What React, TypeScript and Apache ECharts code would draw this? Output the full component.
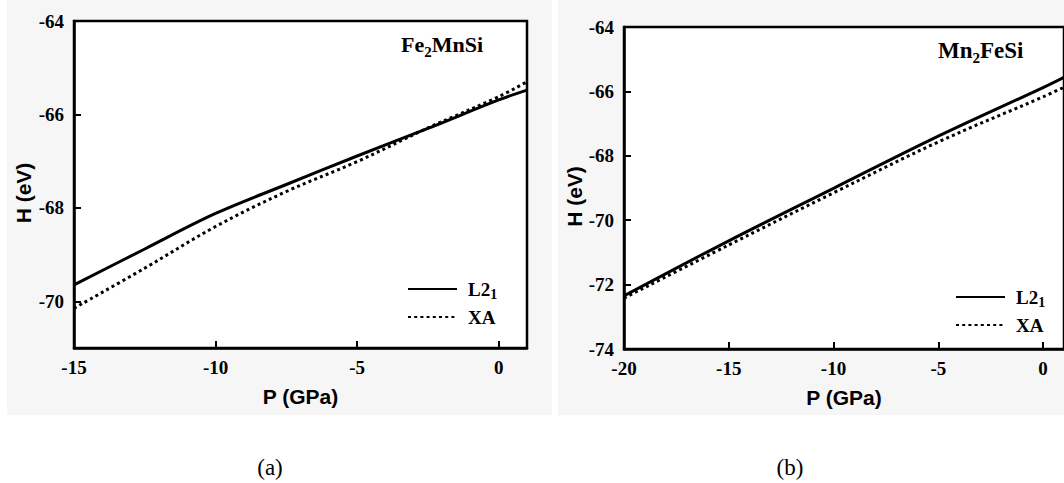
import React, { useEffect, useRef } from "react";
import * as echarts from "echarts";

// Panel (a): Fe2MnSi
const pressureA = [-15, -12.5, -10, -7.5, -5, -2.5, 0, 1];
const l21A = [-69.65, -68.88, -68.12, -67.5, -66.89, -66.3, -65.69, -65.48];
const xaA = [-70.15, -69.29, -68.4, -67.65, -67.01, -66.29, -65.62, -65.3];
// Panel (b): Mn2FeSi
const pressureB = [-20, -15, -10, -5, 0, 1];
const l21B = [-72.35, -70.64, -69.01, -67.39, -65.88, -65.56];
const xaB = [-72.42, -70.77, -69.15, -67.57, -66.17, -65.87];

const ticksXA = [-15, -10, -5, 0];
const ticksYA = [-70, -68, -66, -64];
const ticksXB = [-20, -15, -10, -5, 0];
const ticksYB = [-74, -72, -70, -68, -66, -64];

const seriesNames = ["L21", "XA"];
const panelTitles = ["Fe{s|2}MnSi", "Mn{s|2}FeSi"];
const panelLabels = ["(a)", "(b)"];
const xName = "P (GPa)";
const yName = "H (eV)";

const SERIF = "'Liberation Serif', 'Times New Roman', serif";
const SANS = "'Liberation Sans', Arial, sans-serif";

function makeX(gridIndex: number, min: number, max: number, ticks: number[]) {
  return {
    type: "value",
    gridIndex,
    min,
    max,
    axisLine: { show: true, onZero: false, lineStyle: { color: "#000", width: 2.5 } },
    axisTick: { show: true, inside: true, length: 7, customValues: ticks, lineStyle: { color: "#000", width: 2 } },
    axisLabel: {
      customValues: ticks,
      margin: 10,
      color: "#000",
      fontFamily: SERIF,
      fontWeight: "bold",
      fontSize: 19,
    },
    splitLine: { show: false },
    name: xName,
    nameLocation: "middle",
    nameGap: 38,
    nameTextStyle: { fontFamily: SANS, fontWeight: "bold", fontSize: 21, color: "#000" },
  };
}

function makeY(gridIndex: number, min: number, max: number, ticks: number[], gap: number) {
  return {
    type: "value",
    gridIndex,
    min,
    max,
    axisLine: { show: true, onZero: false, lineStyle: { color: "#000", width: 2.5 } },
    axisTick: { show: true, inside: true, length: 7, customValues: ticks, lineStyle: { color: "#000", width: 2 } },
    axisLabel: {
      customValues: ticks,
      margin: 10,
      color: "#000",
      fontFamily: SERIF,
      fontWeight: "bold",
      fontSize: 19,
    },
    splitLine: { show: false },
    name: yName,
    nameLocation: "middle",
    nameGap: gap,
    nameTextStyle: {
      fontFamily: SANS,
      fontWeight: "bold",
      fontSize: 21,
      color: "#000",
      padding: [0, 17, 0, 0],
    },
  };
}

function lineSeries(name: string, xi: number, xs: number[], ys: number[], dotted: boolean) {
  return {
    type: "line",
    name,
    xAxisIndex: xi,
    yAxisIndex: xi,
    data: xs.map((p, i) => [p, ys[i]]),
    symbol: "none",
    showSymbol: false,
    smooth: 0.35,
    lineStyle: dotted
      ? { color: "#000", width: 3, type: [3, 3.2] }
      : { color: "#000", width: 3, type: "solid" },
    itemStyle: { color: "#000" },
  };
}

const richSub = (sub: number) => ({
  s: {
    fontFamily: SERIF,
    fontWeight: "bold",
    fontSize: sub,
    lineHeight: sub,
    verticalAlign: "bottom",
    color: "#000",
  },
});

function makeLegend(left: number, top: number) {
  return {
    data: seriesNames,
    orient: "vertical",
    left,
    top,
    padding: 0,
    itemWidth: 49,
    itemHeight: 14,
    itemGap: 4,
    selectedMode: false,
    itemStyle: { opacity: 0, borderWidth: 0 },
    formatter: (n: string) => (n === "L21" ? "L2{s|1}" : n),
    textStyle: {
      fontFamily: SERIF,
      fontWeight: "bold",
      fontSize: 19,
      lineHeight: 24,
      color: "#000",
      padding: [0, 0, 0, 6],
      rich: richSub(14),
    },
  };
}

function makeTitle(text: string, left: number, top: number, size: number) {
  return {
    text,
    left,
    top,
    padding: 0,
    textStyle: {
      fontFamily: SERIF,
      fontWeight: "bold",
      fontSize: size,
      lineHeight: 30,
      color: "#000",
      rich: richSub(15),
    },
  };
}

export default function App() {
  const ref = useRef<HTMLDivElement>(null);
  useEffect(() => {
    if (!ref.current) return;
    const chart = echarts.init(ref.current, null, { renderer: "svg" });
    chart.setOption({
      animation: false,
      backgroundColor: "#fff",
      title: [makeTitle(panelTitles[0], 401, 29, 22), makeTitle(panelTitles[1], 938, 35, 23)],
      legend: [makeLegend(407, 277), makeLegend(955, 285)],
      grid: [
        { left: 74, top: 21, width: 453, height: 327, show: true, borderColor: "#000", borderWidth: 2.5, backgroundColor: "#fff" },
        { left: 624, top: 27, width: 448, height: 322, show: true, borderColor: "#000", borderWidth: 2.5, backgroundColor: "#fff" },
      ],
      xAxis: [makeX(0, -15, 1, ticksXA), makeX(1, -20, 1, ticksXB)],
      yAxis: [makeY(0, -71, -64, ticksYA, 40), makeY(1, -74, -64, ticksYB, 38)],
      series: [
        lineSeries(seriesNames[0], 0, pressureA, l21A, false),
        lineSeries(seriesNames[1], 0, pressureA, xaA, true),
        lineSeries(seriesNames[0], 1, pressureB, l21B, false),
        lineSeries(seriesNames[1], 1, pressureB, xaB, true),
      ],
      graphic: [
        { type: "rect", z: -10, silent: true, shape: { x: 7, y: 0, width: 545, height: 415 }, style: { fill: "#f6f6f6" } },
        { type: "rect", z: -10, silent: true, shape: { x: 558, y: 0, width: 506, height: 415 }, style: { fill: "#f6f6f6" } },
        {
          type: "text",
          x: 270,
          y: 467,
          style: { text: panelLabels[0], fontFamily: SERIF, fontSize: 23, fill: "#000", textAlign: "center", textVerticalAlign: "middle" },
        },
        {
          type: "text",
          x: 790,
          y: 467,
          style: { text: panelLabels[1], fontFamily: SERIF, fontSize: 23, fill: "#000", textAlign: "center", textVerticalAlign: "middle" },
        },
      ],
    });
    return () => chart.dispose();
  }, []);
  return (
    <div
      ref={ref}
      style={{ position: "absolute", left: 0, top: 0, width: 1064, height: 483, overflow: "hidden" }}
    />
  );
}
